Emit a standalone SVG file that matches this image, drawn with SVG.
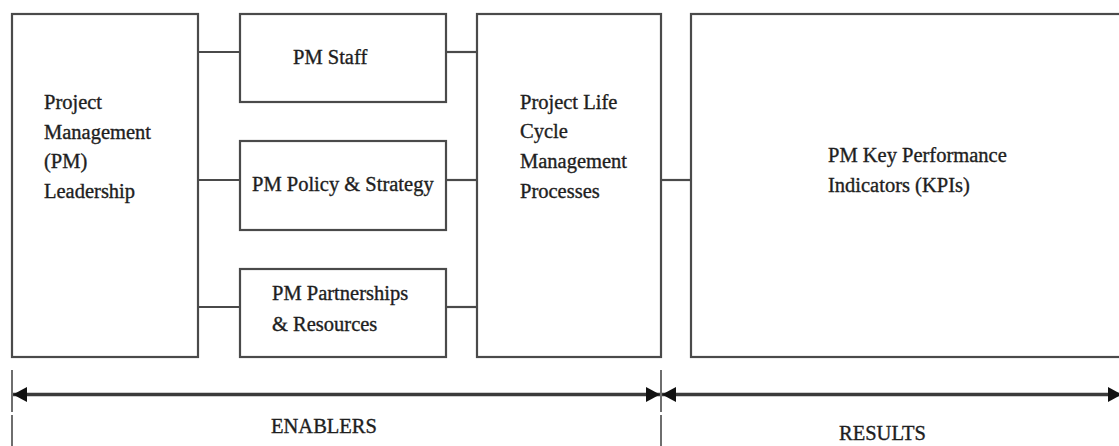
<svg xmlns="http://www.w3.org/2000/svg" width="1119" height="446" viewBox="0 0 1119 446">
  <style>
    .box { fill: #ffffff; stroke: #4a4a4a; stroke-width: 2.2; }
    .conn { stroke: #4a4a4a; stroke-width: 2.2; fill: none; }
    .arrow { stroke: #3a3a3a; stroke-width: 3.5; fill: none; }
    .tick { stroke: #4a4a4a; stroke-width: 1.6; fill: none; }
    .lbl { font-family: "Liberation Serif", "Times New Roman", serif; font-size: 20.5px; fill: #1e1e1e; stroke: #1e1e1e; stroke-width: 0.35; }
  </style>
  <defs>
    <marker id="head" markerUnits="userSpaceOnUse" markerWidth="15" markerHeight="16" refX="14" refY="8" orient="auto-start-reverse">
      <path d="M0,0.5 L14,8 L0,15.5 Z" fill="#111111"/>
    </marker>
  </defs>
  <rect width="1119" height="446" fill="#ffffff"/>

  <g id="connectors">
    <line class="conn" x1="198" y1="52" x2="240" y2="52"/>
    <line class="conn" x1="198" y1="180" x2="240" y2="180"/>
    <line class="conn" x1="198" y1="307" x2="240" y2="307"/>
    <line class="conn" x1="446" y1="52" x2="477" y2="52"/>
    <line class="conn" x1="446" y1="180" x2="477" y2="180"/>
    <line class="conn" x1="446" y1="307" x2="477" y2="307"/>
    <line class="conn" x1="661" y1="180" x2="691" y2="180"/>
    <line class="tick" x1="12" y1="370" x2="12" y2="412"/>
    <line class="tick" x1="12" y1="415" x2="12" y2="446"/>
    <line class="tick" x1="661" y1="370" x2="661" y2="412"/>
    <line class="tick" x1="661" y1="415" x2="661" y2="446"/>
    <line class="arrow" x1="13" y1="394.5" x2="660" y2="394.5" marker-start="url(#head)" marker-end="url(#head)"/>
    <line class="arrow" x1="662" y1="394.5" x2="1122" y2="394.5" marker-start="url(#head)" marker-end="url(#head)"/>
  </g>

  <g id="leadership">
    <rect class="box" x="12" y="14" width="186" height="343"/>
    <text class="lbl" x="44" y="109">Project</text>
    <text class="lbl" x="44" y="138.5">Management</text>
    <text class="lbl" x="44" y="168">(PM)</text>
    <text class="lbl" x="44" y="197.5">Leadership</text>
  </g>

  <g id="staff">
    <rect class="box" x="240" y="14" width="206" height="88"/>
    <text class="lbl" x="293" y="64">PM Staff</text>
  </g>

  <g id="policy">
    <rect class="box" x="240" y="141" width="206" height="89"/>
    <text class="lbl" x="252" y="191">PM Policy &amp; Strategy</text>
  </g>

  <g id="partnerships">
    <rect class="box" x="240" y="269" width="206" height="88"/>
    <text class="lbl" x="272" y="300">PM Partnerships</text>
    <text class="lbl" x="272" y="331">&amp; Resources</text>
  </g>

  <g id="lifecycle">
    <rect class="box" x="477" y="14" width="184" height="343"/>
    <text class="lbl" x="520" y="108.5">Project Life</text>
    <text class="lbl" x="520" y="138">Cycle</text>
    <text class="lbl" x="520" y="168">Management</text>
    <text class="lbl" x="520" y="197.5">Processes</text>
  </g>

  <g id="kpi">
    <rect class="box" x="691" y="14" width="440" height="343"/>
    <text class="lbl" x="828" y="161.5">PM Key Performance</text>
    <text class="lbl" x="828" y="192">Indicators (KPIs)</text>
  </g>

  <g id="labels">
    <text class="lbl" x="271" y="433">ENABLERS</text>
    <text class="lbl" x="839" y="440">RESULTS</text>
  </g>
</svg>
